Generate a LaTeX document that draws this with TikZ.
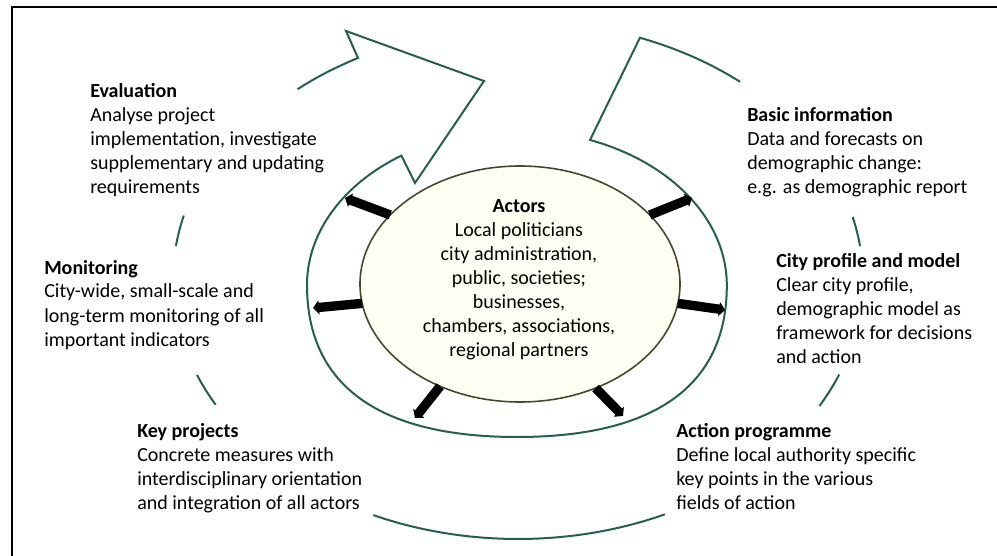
\documentclass[tikz,border=0pt]{standalone}
\usepackage{fontspec}
\setmainfont{Carlito}
\usetikzlibrary{arrows.meta,shapes.geometric}
\definecolor{ringgreen}{RGB}{36,96,74}
\definecolor{actline}{RGB}{70,72,45}
\definecolor{actfill}{RGB}{255,255,243}
\begin{document}
\begin{tikzpicture}[x=0.75pt,y=-0.75pt,
  ringline/.style={draw=ringgreen,line width=1.5pt,line join=miter},
  frameline/.style={draw=black,line width=1.6pt},
  flowarrow/.style={draw=black,line width=7pt,-{Triangle[width=10.5pt,length=4.5pt]}},
  blocktext/.style={anchor=base west,inner sep=0pt,align=left,font=\fontsize{15}{18}\selectfont},
  actorsshape/.style={ellipse,draw=actline,line width=1.2pt,fill=actfill,minimum width=240pt,minimum height=177pt,inner sep=0pt,outer sep=0pt}]
\useasboundingbox (0,0) rectangle (997,556);
% frame
\draw[frameline] (997,7) -- (12,7) -- (12,556);
% central actors ellipse
\node[actorsshape] (actors) at (520,284) {};
\node[anchor=base,inner sep=0pt,align=center,font=\fontsize{15}{18}\selectfont] (actorstext) at (519,356.5)
  {\textbf{Actors}\\Local politicians\\city administration,\\public, societies;\\businesses,\\chambers, associations,\\regional partners};
% ring with the cycle arrow
\draw[ringline] (740.2,81.9) arc[start angle=-49.9, end angle=-69.3, x radius=345, y radius=259]
  -- (590,140) arc[start angle=-69.6, end angle=0, x radius=210, y radius=155]
  .. controls (727,385) and (655.6,437) .. (517,437)
  .. controls (378.4,437) and (307,385) .. (307,285)
  arc[start angle=180, end angle=236.6, x radius=210, y radius=155]
  -- (415,183) -- (484,81) -- (346,31) -- (358,58)
  arc[start angle=241.6, end angle=229.4, x radius=345, y radius=259];
% outer cycle segments
\draw[ringline] (183.8,215.6) arc[start angle=194.4, end angle=187.5, x radius=345, y radius=259];
\draw[ringline] (197.0,374.9) arc[start angle=158.5, end angle=151.2, x radius=345, y radius=259];
\draw[ringline] (373.3,515.1) arc[start angle=114.8, end angle=64.8, x radius=345, y radius=259];
\draw[ringline] (839.2,374.5) arc[start angle=21.4, end angle=29.1, x radius=345, y radius=259];
\draw[ringline] (852.6,216.9) arc[start angle=-14.1, end angle=-7.5, x radius=345, y radius=259];
% arrow tips on the ring
\coordinate (tipUL) at (345,198);
\coordinate (tipUR) at (692,198);
\coordinate (tipL) at (313,308);
\coordinate (tipR) at (725,310);
\coordinate (tipBL) at (415,418);
\coordinate (tipBR) at (623,416);
\draw[flowarrow] (actors.152) -- (tipUL);
\draw[flowarrow] (actors.28) -- (tipUR);
\draw[flowarrow] (actors.187) -- (tipL);
\draw[flowarrow] (actors.353.5) -- (tipR);
\draw[flowarrow] (actors.232) -- (tipBL);
\draw[flowarrow] (actors.306) -- (tipBR);
% text blocks (anchored at the baseline of the last line)
\node[blocktext] (evaluation) at (90,194) {\textbf{Evaluation}\\Analyse project\\implementation, investigate\\supplementary and updating\\requirements};
\node[blocktext] (monitoring) at (44,346) {\textbf{Monitoring}\\City-wide, small-scale and\\long-term monitoring of all\\important indicators};
\node[blocktext] (keyprojects) at (137,509.5) {\textbf{Key projects}\\Concrete measures with\\interdisciplinary orientation\\and integration of all actors};
\node[blocktext] (basicinfo) at (747,193.5) {\textbf{Basic information}\\Data and forecasts on\\demographic change:\\e.g. as demographic report};
\node[blocktext] (cityprofile) at (776,363.5) {\textbf{City profile and model}\\Clear city profile,\\demographic model as\\framework for decisions\\and action};
\node[blocktext] (actionprog) at (676,509.5) {\textbf{Action programme}\\Define local authority specific\\key points in the various\\fields of action};
\end{tikzpicture}
\end{document}
